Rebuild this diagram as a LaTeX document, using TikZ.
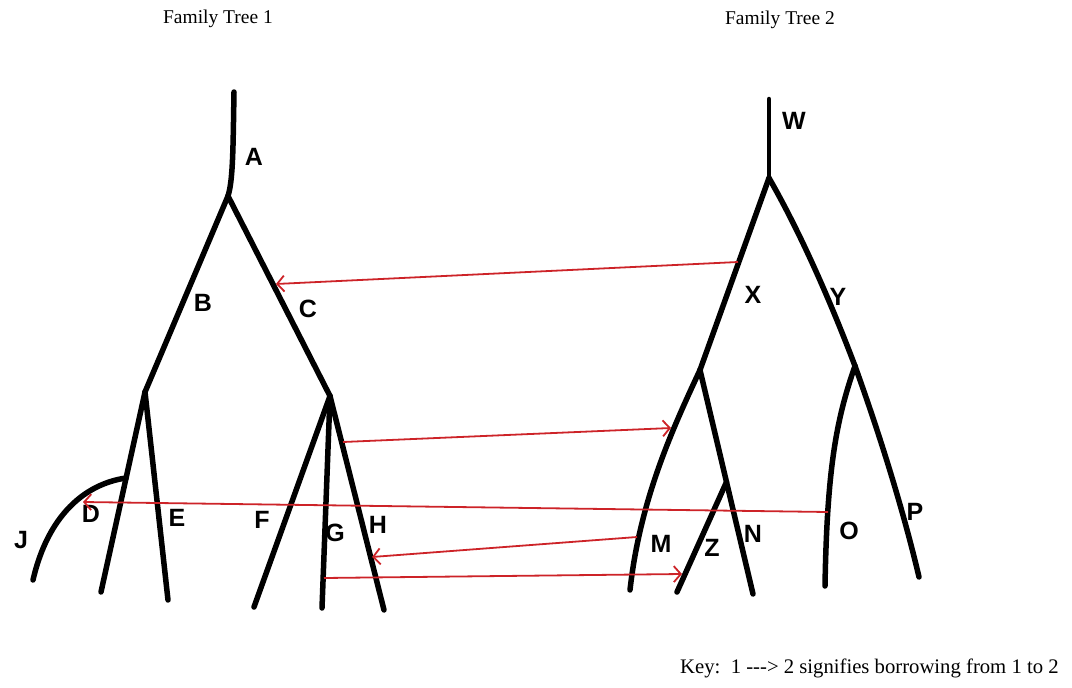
\documentclass[tikz,border=0pt]{standalone}
\usepackage{fontspec}
\setmainfont{Liberation Serif}
\newfontfamily\handfont{Liberation Sans}
\usetikzlibrary{arrows.meta,calc}
\definecolor{borrow}{RGB}{205,35,40}
\begin{document}
\begin{tikzpicture}[x=1pt,y=-1pt,
  branch/.style={line width=5.5pt,line cap=round,line join=round},
  borrowarrow/.style={draw=borrow,line width=1.8pt,-{Straight Barb[length=7pt,width=16pt,line width=1.8pt]}},
  leaflabel/.style={font=\handfont\bfseries\fontsize{25}{25}\selectfont,inner sep=0pt},
  titletext/.style={font=\fontsize{19.5}{19.5}\selectfont,inner sep=0pt}]
\useasboundingbox (0,0) rectangle (1072,688);
% titles
\node[titletext] (t1) at (218,19) {Family Tree 1};
\node[titletext] (t2) at (780,20) {Family Tree 2};
\node[titletext,anchor=west,font=\fontsize{20.7}{20.7}\selectfont] (key) at (680,668) {Key:\ \ 1 {-}{-}{-}> 2 signifies borrowing from 1 to 2};
% tree 1 points
\coordinate (Atop) at (234,92);
\coordinate (r1) at (228,196);
\coordinate (bc) at (145,392);
\coordinate (cc) at (330,396);
\coordinate (Dl) at (101,592);
\coordinate (El) at (168,600);
\coordinate (Jr) at (126,478);
\coordinate (Jl) at (33,580);
\coordinate (Fl) at (254,607);
\coordinate (Gl) at (322,608);
\coordinate (Hl) at (384,610);
% tree 2 points
\coordinate (Wtop) at (769,99);
\coordinate (r2) at (769,178);
\coordinate (xc) at (700,370);
\coordinate (yc) at (855,366);
\coordinate (Ml) at (630,590);
\coordinate (Nl) at (753,594);
\coordinate (zc) at ($(xc)!0.5!(Nl)$);
\coordinate (Zl) at (677,592);
\coordinate (Ol) at (825,586);
\coordinate (Pl) at (919,577);
% tree 1 branches
\draw[branch] (Atop) .. controls (233,150) and (233,180) .. (r1);
\draw[branch] (r1) -- (bc);
\draw[branch] (r1) -- (cc);
\draw[branch] (bc) -- (Dl);
\draw[branch] (bc) -- (El);
\draw[branch] (Jr) .. controls (85,484) and (48,515) .. (Jl);
\draw[branch] (cc) -- (Fl);
\draw[branch] (cc) -- (Gl);
\draw[branch] (cc) -- (Hl);
% tree 2 branches
\draw[branch,line width=4.5pt] (Wtop) -- (r2);
\draw[branch] (r2) -- (xc);
\draw[branch] (r2) .. controls (800,232) and (830,300) .. (yc);
\draw[branch] (xc) .. controls (672,430) and (640,500) .. (Ml);
\draw[branch] (xc) -- (Nl);
\draw[branch] (zc) -- (Zl);
\draw[branch] (yc) .. controls (836,420) and (827,470) .. (Ol);
\draw[branch] (yc) .. controls (878,430) and (902,505) .. (Pl);
% labels
\node[leaflabel] (lA) at (254,157) {A};
\node[leaflabel] (lB) at (203,303) {B};
\node[leaflabel] (lC) at (308,309) {C};
\node[leaflabel] (lJ) at (21,540) {J};
\node[leaflabel] (lD) at (91,514) {D};
\node[leaflabel] (lE) at (177,518) {E};
\node[leaflabel] (lF) at (262,520) {F};
\node[leaflabel] (lG) at (335,533) {G};
\node[leaflabel] (lH) at (378,525) {H};
\node[leaflabel] (lW) at (794,121) {W};
\node[leaflabel] (lX) at (753,295) {X};
\node[leaflabel] (lY) at (838,297) {Y};
\node[leaflabel] (lM) at (661,544) {M};
\node[leaflabel] (lZ) at (712,548) {Z};
\node[leaflabel] (lN) at (753,534) {N};
\node[leaflabel] (lO) at (849,531) {O};
\node[leaflabel] (lP) at (915,512) {P};
% borrowing arrows
\coordinate (a1s) at (738,262); \coordinate (a1e) at (276,284);
\coordinate (a2s) at (343,442); \coordinate (a2e) at (671,428);
\coordinate (a3s) at (828,512); \coordinate (a3e) at (83,502);
\coordinate (a4s) at (637,537); \coordinate (a4e) at (372,557);
\coordinate (a5s) at (324,578); \coordinate (a5e) at (682,574);
\draw[borrowarrow] (a1s) -- (a1e);
\draw[borrowarrow] (a2s) -- (a2e);
\draw[borrowarrow] (a3s) -- (a3e);
\draw[borrowarrow] (a4s) -- (a4e);
\draw[borrowarrow] (a5s) -- (a5e);
\end{tikzpicture}
\end{document}
